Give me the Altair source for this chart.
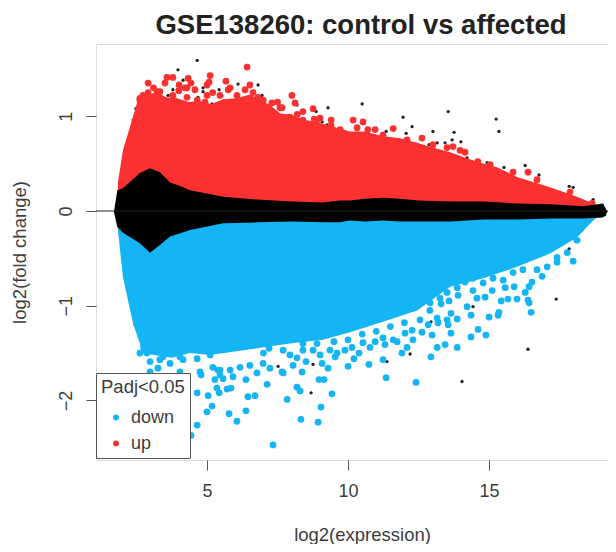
import altair as alt
import pandas as pd

FONT = "Liberation Sans"

# Envelopes of the solid clouds
up_x = [1.84, 2.02, 2.34, 2.52, 2.62, 3.23, 3.55, 3.94, 4.35, 4.75, 5.15, 5.57, 6.05, 6.52, 6.85, 7.23, 7.6, 7.94, 8.5, 9.11, 10.07, 10.6, 11.24, 11.8, 12.45, 13.0, 13.62, 14.57, 15.3, 15.99, 17.16, 18.12, 18.69, 19.1]
up_top = [0.30, 0.64, 0.96, 1.14, 1.22, 1.25, 1.20, 1.19, 1.15, 1.16, 1.13, 1.18, 1.19, 1.23, 1.18, 1.12, 1.03, 1.02, 0.96, 0.92, 0.84, 0.84, 0.79, 0.77, 0.72, 0.67, 0.62, 0.52, 0.46, 0.36, 0.25, 0.15, 0.08, 0.02]

down_x = [1.84, 2.02, 2.38, 2.62, 2.66, 3.76, 4.40, 5.1, 6.77, 7.94, 9.11, 10.07, 11.24, 12.45, 13.62, 14.79, 15.99, 17.16, 18.12, 18.69, 19.0]
down_bot = [-0.20, -0.70, -1.19, -1.40, -1.50, -1.55, -1.50, -1.52, -1.45, -1.40, -1.36, -1.28, -1.17, -1.05, -0.80, -0.71, -0.59, -0.45, -0.28, -0.10, -0.02]

black_x = [1.7, 1.82, 2.02, 2.62, 2.98, 3.33, 3.69, 4.00, 4.40, 5.57, 6.77, 8.0, 9.11, 9.7, 10.07, 10.6, 11.24, 11.84, 12.5, 13.62, 14.8, 15.99, 17.2, 18.33, 19.04, 19.2]
black_hi = [-0.01, 0.22, 0.24, 0.40, 0.45, 0.41, 0.30, 0.27, 0.22, 0.15, 0.12, 0.10, 0.09, 0.11, 0.11, 0.13, 0.14, 0.13, 0.11, 0.10, 0.10, 0.08, 0.07, 0.05, 0.08, -0.01]
black_lo = [-0.01, -0.17, -0.23, -0.34, -0.44, -0.36, -0.27, -0.24, -0.20, -0.13, -0.12, -0.11, -0.12, -0.12, -0.10, -0.11, -0.10, -0.11, -0.11, -0.11, -0.09, -0.09, -0.08, -0.08, -0.07, -0.01]

# Individual points outside the solid clouds
blue_x = [3.26, 4.75, 4.79, 5.39, 5.46, 5.28, 5.57, 6.38, 7.13, 5.35, 5.43, 5.71, 5.85, 4.65, 5.04, 6.45, 6.70, 7.84, 5.18, 5.00, 6.38, 5.78, 6.06, 4.65, 4.43, 7.34,
          2.62, 2.98, 3.33, 3.69, 4.15, 4.65, 5.11, 7.23, 7.66, 6.77, 5.92, 2.98, 4.04,
          7.70, 8.19, 8.30, 8.97, 9.15, 9.43, 9.04, 8.33, 8.94, 10.0, 10.74, 11.35, 12.41, 12.94, 11.24, 10.21, 10.39, 9.54, 9.08, 9.29, 8.37, 8.05, 8.51, 11.91, 12.09, 12.30, 10.78, 11.31, 11.74, 13.16, 12.98, 12.62, 12.84,
          13.87, 13.44, 14.36, 14.89, 14.61, 13.65, 13.55, 13.87, 13.51, 13.19, 13.16, 13.65, 15.0, 14.36, 14.22, 15.35, 15.32, 15.43, 15.67, 15.99, 16.49, 16.42, 16.38, 16.28, 16.42, 16.52, 15.57, 15.89, 14.57, 14.86, 14.43, 15.11, 13.58, 13.90, 14.15, 17.98, 16.88, 17.41, 18.12]
blue_y = [-1.66, -1.70, -1.73, -1.68, -1.73, -1.78, -1.77, -1.78, -1.83, -1.87, -1.92, -1.88, -1.87, -1.92, -1.95, -1.96, -1.95, -1.99, -2.06, -2.12, -2.11, -2.14, -2.22, -2.26, -2.37, -2.47,
          -1.50, -1.59, -1.57, -1.61, -1.57, -1.56, -1.52, -1.66, -1.70, -1.71, -1.75, -1.70, -1.70,
          -1.71, -1.86, -1.90, -1.78, -1.78, -1.93, -2.07, -2.20, -2.23, -1.64, -1.62, -1.76, -1.81, -1.54, -1.57, -1.56, -1.50, -1.54, -1.61, -1.66, -1.70, -1.63, -1.59, -1.50, -1.44, -1.36, -1.44, -1.41, -1.38, -1.44, -1.31, -1.28, -1.20,
          -1.44, -1.41, -1.33, -1.31, -1.25, -1.29, -1.20, -1.14, -1.15, -1.18, -1.13, -1.08, -1.12, -1.10, -1.01, -1.07, -1.10, -0.95, -0.93, -0.93, -1.07, -0.97, -0.94, -0.86, -0.80, -0.75, -0.81, -0.80, -0.92, -0.91, -0.84, -0.84, -0.95, -0.89, -0.75, -0.53, -0.69, -0.49, -0.31]
# Speckled lower rim of the blue cloud
rim_blue_x = [5.21, 5.46, 5.82, 6.17, 6.52, 6.99, 3.44, 2.87, 4.04, 7.70, 7.94, 8.19, 8.40, 8.76, 9.01, 9.36, 9.61, 9.89, 10.14, 10.53, 10.96, 11.24, 11.6, 12.02, 12.27, 12.55, 12.91, 13.26, 13.51, 13.87, 14.43, 14.79, 15.14, 15.50, 15.85, 16.2, 16.70, 17.06, 17.41, 17.77,
              7.0, 7.2, 8.4, 8.9, 9.5, 10.0, 10.5, 11.0, 11.5, 12.0, 12.9, 13.3]
rim_blue_y = [-1.65, -1.68, -1.68, -1.65, -1.63, -1.61, -1.54, -1.50, -1.54, -1.47, -1.52, -1.55, -1.47, -1.47, -1.52, -1.47, -1.50, -1.47, -1.44, -1.39, -1.38, -1.34, -1.36, -1.29, -1.26, -1.15, -0.97, -0.92, -0.86, -0.81, -0.71, -0.76, -0.71, -0.73, -0.65, -0.62, -0.62, -0.59, -0.54, -0.44,
              -1.50, -1.45, -1.40, -1.40, -1.38, -1.36, -1.30, -1.27, -1.22, -1.18, -1.05, -0.98]

red_x = [6.42, 2.91, 3.58, 3.79, 4.33, 4.43, 5.11, 5.07, 5.0, 5.67, 3.51, 4.01, 4.29, 4.57, 6.52, 5.82, 8.01, 8.12, 8.76, 9.40, 10.18, 7.94, 8.40, 7.59, 8.90, 10.53, 10.96, 11.6, 12.62, 13.72, 14.15, 14.6, 16.38, 2.73, 2.62, 3.23]
red_y = [1.52, 1.35, 1.41, 1.41, 1.40, 1.35, 1.43, 1.36, 1.33, 1.37, 1.35, 1.33, 1.30, 1.28, 1.33, 1.30, 1.22, 1.14, 1.08, 0.96, 0.96, 0.99, 1.05, 1.09, 0.96, 0.94, 0.86, 0.87, 0.77, 0.68, 0.62, 0.52, 0.41, 1.22, 1.17, 1.26]
# Lumpy upper rim of the red cloud
rim_red_x = [2.62, 2.91, 3.33, 3.79, 4.22, 4.29, 4.65, 4.93, 5.46, 5.75, 6.06, 6.35, 6.63, 6.99, 7.30, 7.66, 8.40, 9.01, 9.72, 10.32, 11.24, 12.09, 13.01, 13.51, 13.97, 15.04, 15.85, 16.70, 17.87, 18.65,
             3.1, 4.0, 5.0, 5.2, 6.8, 7.5, 8.2, 8.8, 9.4, 10.7]
rim_red_y = [1.19, 1.25, 1.26, 1.22, 1.30, 1.20, 1.17, 1.15, 1.22, 1.28, 1.22, 1.28, 1.25, 1.17, 1.14, 1.09, 0.96, 0.98, 0.86, 0.88, 0.80, 0.75, 0.70, 0.67, 0.64, 0.49, 0.41, 0.33, 0.20, 0.08,
             1.30, 1.27, 1.22, 1.25, 1.20, 1.15, 1.02, 0.97, 0.90, 0.86]

ns_x = [4.65, 3.97, 4.15, 6.10, 6.81, 6.95, 4.86, 4.86, 5.25, 5.43, 4.68, 4.65, 4.79, 5.18, 3.62, 3.79, 3.44, 2.94, 2.48, 2.38, 8.19, 8.87, 9.29, 7.59, 9.08, 9.26, 9.72,
        10.5, 11.95, 13.55, 15.25, 15.35, 12.27, 12.06, 13.01, 13.76, 11.35, 14.0, 13.69, 13.44, 13.16, 12.87, 14.22, 14.93, 15.53, 16.28, 16.77, 17.84, 17.98, 18.69,
        7.52, 8.76, 8.69, 12.2, 11.38, 12.94, 17.84, 17.38, 14.43, 16.38, 14.04, 6.77, 2.45, 19.0, 19.1, 18.9]
ns_y = [1.59, 1.49, 1.38, 1.34, 1.33, 1.22, 1.30, 1.26, 1.25, 1.28, 1.20, 1.13, 1.10, 1.13, 1.22, 1.28, 1.19, 1.26, 1.08, 0.96, 1.12, 1.05, 1.09, 0.93, 0.94, 0.91, 0.81,
        1.13, 0.99, 1.05, 0.97, 0.84, 0.89, 0.82, 0.84, 0.83, 0.84, 0.73, 0.75, 0.72, 0.72, 0.70, 0.56, 0.51, 0.46, 0.48, 0.38, 0.26, 0.25, 0.12,
        -1.64, -1.62, -1.92, -1.51, -1.59, -1.17, -0.40, -0.93, -1.01, -1.46, -1.80, -1.22, -1.20, 0.06, -0.04, -0.05]

x_ticks = [5, 10, 15]
y_ticks = [-2, -1, 0, 1]
RED, BLUE = "#fb3030", "#14b5f5"
INK = "#3c3c3c"

xs = alt.Scale(domain=[1.064, 19.5], nice=False, zero=False)
ys = alt.Scale(domain=[-2.629, 1.763], nice=False, zero=False)
X = alt.X("x:Q", scale=xs, title="log2(expression)",
          axis=alt.Axis(values=x_ticks, grid=False, domain=False, tickSize=10, tickColor="#555555",
                        labelFontSize=18, labelPadding=12, labelColor=INK, labelFont=FONT,
                        titleFontSize=18.5, titleFont=FONT, titleColor=INK, titleFontWeight="normal",
                        titlePadding=25, titleX=266, format="d"))
Y = alt.Y("y:Q", scale=ys, title="log2(fold change)",
          axis=alt.Axis(values=y_ticks, grid=False, domain=False, tickSize=10, tickColor="#555555",
                        labelFontSize=18, labelPadding=20, labelColor=INK, labelFont=FONT, labelAngle=-90,
                        labelAlign="center", labelBaseline="middle",
                        titleFontSize=18.5, titleFont=FONT, titleColor=INK, titleFontWeight="normal",
                        titlePadding=28, format="d"))

up_df = pd.DataFrame({"x": up_x, "y": up_top, "y0": [0.0] * len(up_x)})
down_df = pd.DataFrame({"x": down_x, "y": down_bot, "y0": [0.0] * len(down_x)})
black_df = pd.DataFrame({"x": black_x, "y": black_hi, "y0": black_lo})
all_blue_x = blue_x + rim_blue_x
all_blue_y = blue_y + rim_blue_y
all_red_x = red_x + rim_red_x
all_red_y = red_y + rim_red_y
dots = pd.DataFrame({
    "x": all_blue_x + all_red_x,
    "y": all_blue_y + all_red_y,
    "group": ["down"] * len(all_blue_x) + ["up"] * len(all_red_x),
})
ns = pd.DataFrame({"x": ns_x, "y": ns_y})
zero = pd.DataFrame({"y": [0]})

legend = alt.Legend(title="Padj<0.05", orient="none", legendX=0, legendY=329,
                    fillColor="white", strokeColor="#555555", padding=5,
                    titleFontSize=18.5, titleFont=FONT, titleColor=INK, titleFontWeight="normal",
                    titlePadding=12, labelFontSize=18, labelFont=FONT, labelColor=INK,
                    symbolSize=36, symbolType="circle", symbolStrokeWidth=0, symbolOffset=6, labelOffset=6,
                    rowPadding=8, offset=0)

layers = [
    alt.Chart(ns).mark_circle(color="#222222", size=11, opacity=1).encode(x=X, y=Y),
    alt.Chart(up_df).mark_area(color=RED, opacity=1).encode(x=X, y=Y, y2="y0:Q"),
    alt.Chart(down_df).mark_area(color=BLUE, opacity=1).encode(x=X, y=Y, y2="y0:Q"),
    alt.Chart(dots).mark_circle(size=46, opacity=1).encode(
        x=X, y=Y,
        color=alt.Color("group:N", scale=alt.Scale(domain=["down", "up"], range=[BLUE, RED]), legend=legend),
    ),
    alt.Chart(black_df).mark_area(color="#000000", opacity=1).encode(x=X, y=Y, y2="y0:Q"),
    alt.Chart(zero).mark_rule(color="#222222", strokeWidth=1).encode(y=alt.Y("y:Q", scale=ys)),
]

chart = alt.layer(*layers).properties(
    width=520, height=416,
    title=alt.TitleParams("GSE138260: control vs affected", font=FONT, fontSize=27.5, fontWeight="bold",
                          color="#222222", anchor="middle", dx=5, offset=5),
    padding={"left": 88, "top": 36, "right": -8, "bottom": 84},
    autosize=alt.AutoSizeParams(type="none"),
).configure_view(stroke="#555555", strokeWidth=1.5).configure(background="white")

chart.save("out.html", embed_options={"renderer": "svg", "actions": False})
